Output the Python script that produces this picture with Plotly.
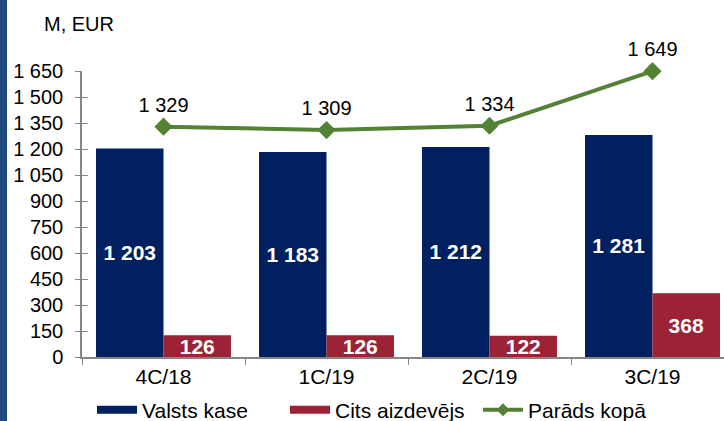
import plotly.graph_objects as go

categories = ["4C/18", "1C/19", "2C/19", "3C/19"]
valsts_kase = [1203, 1183, 1212, 1281]
cits_aizdevejs = [126, 126, 122, 368]
parads_kopa = [1329, 1309, 1334, 1649]
y_ticks = [0, 150, 300, 450, 600, 750, 900, 1050, 1200, 1350, 1500, 1650]

NAVY = "#002060"
RED = "#9B2335"
GREEN = "#548235"
AXIS = "#868686"
FONT = "Liberation Sans, Arial, sans-serif"

def fmt(v):
    return f"{v:,}".replace(",", " ")

W, H = 724, 421
ML, MR, MT, MB = 82, 0, 71, 64
PW, PH = W - ML - MR, H - MT - MB
CAT_W = 163.0

fig = go.Figure()

fig.add_trace(go.Bar(
    x=categories, y=valsts_kase, name="Valsts kase", marker_color=NAVY,
    text=[fmt(v) for v in valsts_kase], textposition="inside",
    insidetextanchor="middle", constraintext="none",
    textfont=dict(color="white", size=21, family=FONT, weight="bold"),
    showlegend=False, marker_line_width=0,
))
fig.add_trace(go.Bar(
    x=categories, y=cits_aizdevejs, name="Cits aizdevējs", marker_color=RED,
    text=[fmt(v) for v in cits_aizdevejs], textposition="inside",
    insidetextanchor="middle", constraintext="none",
    textfont=dict(color="white", size=21, family=FONT, weight="bold"),
    showlegend=False, marker_line_width=0,
))
fig.add_trace(go.Scatter(
    x=categories, y=parads_kopa, name="Parāds kopā", mode="lines+markers+text",
    line=dict(color=GREEN, width=4),
    marker=dict(symbol="diamond", size=14, color=GREEN),
    text=[fmt(v) for v in parads_kopa], textposition="top center",
    textfont=dict(color="black", size=20, family=FONT),
    cliponaxis=False, showlegend=False,
))

# legend entries
fig.add_trace(go.Scatter(x=[None], y=[None], mode="lines", name="Valsts kase",
                         line=dict(color=NAVY, width=8)))
fig.add_trace(go.Scatter(x=[None], y=[None], mode="lines", name="Cits aizdevējs",
                         line=dict(color=RED, width=8)))
fig.add_trace(go.Scatter(x=[None], y=[None], mode="lines+markers", name="Parāds kopā",
                         line=dict(color=GREEN, width=4),
                         marker=dict(symbol="diamond", size=10, color=GREEN)))

# overlay axis to get ticks crossing the y axis line
fig.add_trace(go.Scatter(x=[None], y=[None], yaxis="y2", showlegend=False))

fig.update_layout(
    width=W, height=H,
    margin=dict(l=ML, r=MR, t=MT, b=MB, autoexpand=False),
    paper_bgcolor="white", plot_bgcolor="white",
    font=dict(family=FONT, size=18, color="black"),
    separators=". ",
    barmode="group", bargap=0.172, bargroupgap=0,
    xaxis=dict(
        type="category", range=[-0.5, -0.5 + PW / CAT_W],
        showline=True, linecolor=AXIS, linewidth=1.5,
        ticks="outside", ticklen=6, tickcolor=AXIS, tickson="boundaries",
        showgrid=False, zeroline=False, automargin=False,
        tickfont=dict(size=21, family=FONT),
    ),
    yaxis=dict(
        range=[0, 1650], tickvals=y_ticks, ticktext=[fmt(v) for v in y_ticks],
        showline=True, linecolor=AXIS, linewidth=1.5,
        ticks="outside", ticklen=5, tickcolor=AXIS,
        showgrid=False, zeroline=False, ticklabelstandoff=8, automargin=False,
        tickfont=dict(size=20, family=FONT),
    ),
    yaxis2=dict(
        range=[0, 1650], tickvals=y_ticks, overlaying="y", side="left",
        ticks="inside", ticklen=6, tickcolor=AXIS, showticklabels=False,
        showgrid=False, zeroline=False, showline=False, automargin=False,
    ),
    legend=dict(
        orientation="h", x=(92 - ML) / PW, xanchor="left",
        y=-(410 - (H - MB)) / PH, yanchor="middle",
        itemwidth=40, font=dict(size=21, family=FONT),
        entrywidth=138, entrywidthmode="pixels",
        bgcolor="rgba(0,0,0,0)", tracegroupgap=0,
    ),
    annotations=[dict(
        text="M, EUR", xref="paper", yref="paper",
        x=(42 - ML) / PW, xanchor="left",
        y=1 + (MT - 24) / PH, yanchor="middle",
        showarrow=False, font=dict(size=20, family=FONT),
    )],
    shapes=[dict(
        type="rect", xref="paper", yref="paper",
        x0=-ML / PW, x1=(7 - ML) / PW,
        y0=-MB / PH - 0.01, y1=1 + MT / PH + 0.01,
        fillcolor="#1F4A80", line_width=0, layer="above",
    )],
)

fig.write_html("out.html", config={"displayModeBar": False},
               post_script="document.body.style.margin='0';")
